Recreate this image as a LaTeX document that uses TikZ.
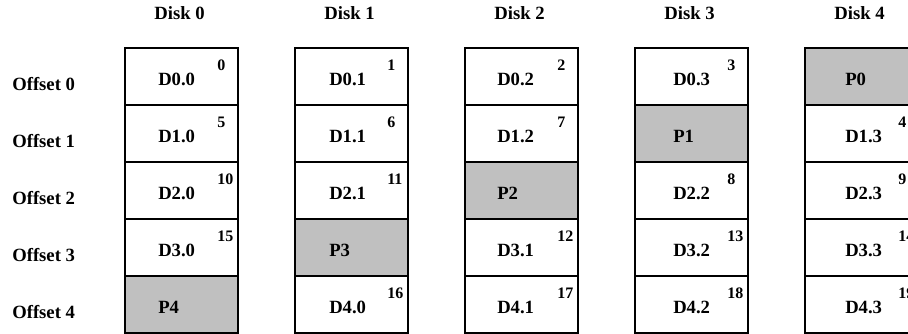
\documentclass[tikz,border=0pt]{standalone}
\usepackage{fontspec}
\setmainfont{Liberation Serif}
\usepackage{tikz}

\begin{document}
\begin{tikzpicture}[x=0.75pt,y=0.75pt,yscale=-1,xscale=1,
  cell/.style={draw, line width=0.9pt, minimum width=84.75pt, minimum height=42.75pt, inner sep=0pt, outer sep=0pt},
  par/.style={cell, fill={rgb, 255:red, 192; green, 192; blue, 192}},
  lbl/.style={anchor=base west, inner sep=0pt, font=\fontsize{14}{17}\selectfont\bfseries},
  num/.style={anchor=base west, inner sep=0pt, font=\fontsize{12}{14}\selectfont\bfseries},
  hdr/.style={anchor=base, inner sep=0pt, font=\fontsize{14}{17}\selectfont\bfseries}]
\useasboundingbox (0,0) rectangle (908,334);

% Disk headers
\node (h0) [hdr] at (179.5,20) {Disk 0};
\node (h1) [hdr] at (349.5,20) {Disk 1};
\node (h2) [hdr] at (519.5,20) {Disk 2};
\node (h3) [hdr] at (689.5,20) {Disk 3};
\node (h4) [hdr] at (859.5,20) {Disk 4};

% Offset labels
\node (o0) [lbl] at (12,91) {Offset 0};
\node (o1) [lbl] at (12,148) {Offset 1};
\node (o2) [lbl] at (12,205) {Offset 2};
\node (o3) [lbl] at (12,262) {Offset 3};
\node (o4) [lbl] at (12,319) {Offset 4};

%Shape: Cells, Disk 0
\node (c00) [cell] at (181.5,76.5) {};
\node (c01) [cell] at (181.5,133.5) {};
\node (c02) [cell] at (181.5,190.5) {};
\node (c03) [cell] at (181.5,247.5) {};
\node (c04) [par] at (181.5,304.5) {};
%Shape: Cells, Disk 1
\node (c10) [cell] at (351.5,76.5) {};
\node (c11) [cell] at (351.5,133.5) {};
\node (c12) [cell] at (351.5,190.5) {};
\node (c13) [par] at (351.5,247.5) {};
\node (c14) [cell] at (351.5,304.5) {};
%Shape: Cells, Disk 2
\node (c20) [cell] at (521.5,76.5) {};
\node (c21) [cell] at (521.5,133.5) {};
\node (c22) [par] at (521.5,190.5) {};
\node (c23) [cell] at (521.5,247.5) {};
\node (c24) [cell] at (521.5,304.5) {};
%Shape: Cells, Disk 3
\node (c30) [cell] at (691.5,76.5) {};
\node (c31) [par] at (691.5,133.5) {};
\node (c32) [cell] at (691.5,190.5) {};
\node (c33) [cell] at (691.5,247.5) {};
\node (c34) [cell] at (691.5,304.5) {};
%Shape: Cells, Disk 4
\node (c40) [par] at (861.5,76.5) {};
\node (c41) [cell] at (861.5,133.5) {};
\node (c42) [cell] at (861.5,190.5) {};
\node (c43) [cell] at (861.5,247.5) {};
\node (c44) [cell] at (861.5,304.5) {};

% Text Node: Disk 0
\node (l00) [lbl] at (158,86) {D0.0};
\node (n00) [num] at (217,71) {0};
\node (l01) [lbl] at (158,143) {D1.0};
\node (n01) [num] at (217,128) {5};
\node (l02) [lbl] at (158,200) {D2.0};
\node (n02) [num] at (217,185) {10};
\node (l03) [lbl] at (158,257) {D3.0};
\node (n03) [num] at (217,242) {15};
\node (l04) [lbl] at (158,314) {P4};
% Text Node: Disk 1
\node (l10) [lbl] at (329,86) {D0.1};
\node (n10) [num] at (387,71) {1};
\node (l11) [lbl] at (329,143) {D1.1};
\node (n11) [num] at (387,128) {6};
\node (l12) [lbl] at (329,200) {D2.1};
\node (n12) [num] at (387,185) {11};
\node (l13) [lbl] at (329,257) {P3};
\node (l14) [lbl] at (329,314) {D4.0};
\node (n14) [num] at (387,299) {16};
% Text Node: Disk 2
\node (l20) [lbl] at (497,86) {D0.2};
\node (n20) [num] at (557,71) {2};
\node (l21) [lbl] at (497,143) {D1.2};
\node (n21) [num] at (557,128) {7};
\node (l22) [lbl] at (497,200) {P2};
\node (l23) [lbl] at (497,257) {D3.1};
\node (n23) [num] at (557,242) {12};
\node (l24) [lbl] at (497,314) {D4.1};
\node (n24) [num] at (557,299) {17};
% Text Node: Disk 3
\node (l30) [lbl] at (673,86) {D0.3};
\node (n30) [num] at (727,71) {3};
\node (l31) [lbl] at (673,143) {P1};
\node (l32) [lbl] at (673,200) {D2.2};
\node (n32) [num] at (727,185) {8};
\node (l33) [lbl] at (673,257) {D3.2};
\node (n33) [num] at (727,242) {13};
\node (l34) [lbl] at (673,314) {D4.2};
\node (n34) [num] at (727,299) {18};
% Text Node: Disk 4
\node (l40) [lbl] at (845,86) {P0};
\node (l41) [lbl] at (845,143) {D1.3};
\node (n41) [num] at (898,128) {4};
\node (l42) [lbl] at (845,200) {D2.3};
\node (n42) [num] at (898,185) {9};
\node (l43) [lbl] at (845,257) {D3.3};
\node (n43) [num] at (898,242) {14};
\node (l44) [lbl] at (845,314) {D4.3};
\node (n44) [num] at (898,299) {19};

\end{tikzpicture}
\end{document}
